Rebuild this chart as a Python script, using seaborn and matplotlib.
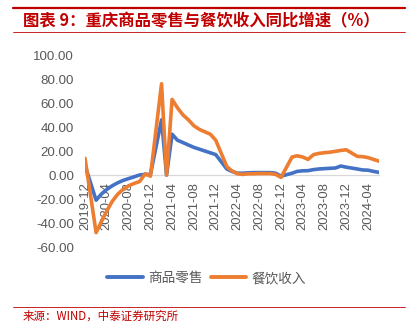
import matplotlib
matplotlib.use("Agg")
import matplotlib.pyplot as plt
import matplotlib.dates as mdates
import seaborn as sns
import pandas as pd
import numpy as np
from matplotlib.lines import Line2D

months = ["2019-12",
          "2020-02", "2020-03", "2020-04", "2020-05", "2020-06", "2020-07", "2020-08", "2020-09", "2020-10", "2020-11", "2020-12",
          "2021-02", "2021-03", "2021-04", "2021-05", "2021-06", "2021-07", "2021-08", "2021-09", "2021-10", "2021-11", "2021-12",
          "2022-02", "2022-03", "2022-04", "2022-05", "2022-06", "2022-07", "2022-08", "2022-09", "2022-10", "2022-11", "2022-12",
          "2023-02", "2023-03", "2023-04", "2023-05", "2023-06", "2023-07", "2023-08", "2023-09", "2023-10", "2023-11", "2023-12",
          "2024-02", "2024-03", "2024-04", "2024-05", "2024-06"]

retail = [8,
          -21, -16, -12, -9, -6.5, -4.5, -3, -1.5, 0, 0.5, 0.5,
          46, 0, 34, 29, 27, 25, 23, 21.5, 20, 18.5, 17,
          5, 3, 1.5, 1.5, 1.8, 2, 2, 2, 2, 1.5, -1,
          1.5, 3, 3.5, 3.6, 4.5, 5, 5.3, 5.6, 5.8, 7.5, 6.5,
          5, 4.2, 4, 3, 2.2]

catering = [14,
            -48, -39, -30, -22, -16, -12, -9, -7, -5.5, 1, -1,
            76, 0, 63, 56, 50, 46, 41, 38, 36, 34, 29,
            7, 3.5, 1, 0.5, 1, 1, 1.2, 1.2, 1.2, 0.5, -2,
            15, 16, 15, 13, 17, 18, 18.6, 19, 19.7, 20.5, 21,
            15.5, 15.3, 14.5, 13, 11.5]

series_names = ["商品零售", "餐饮收入"]
colors = ["#4472C4", "#ED7D31"]

tick_labels = ["2019-12", "2020-04", "2020-08", "2020-12", "2021-04", "2021-08", "2021-12",
               "2022-04", "2022-08", "2022-12", "2023-04", "2023-08", "2023-12", "2024-04"]
y_ticks = [-60, -40, -20, 0, 20, 40, 60, 80, 100]

title = "图表 9：重庆商品零售与餐饮收入同比增速（%）"
source = "来源：WIND，中泰证券研究所"

df = pd.DataFrame({
    "date": pd.to_datetime(months * 2),
    "value": retail + catering,
    "series": [series_names[0]] * len(months) + [series_names[1]] * len(months),
})

sns.set_theme(style="white")
plt.rcParams["font.family"] = ["Liberation Sans", "Noto Sans CJK SC", "DejaVu Sans"]

W, H = 414, 335
fig = plt.figure(figsize=(W / 100, H / 100), dpi=100)
ax = fig.add_axes([85 / W, 1 - 247 / H, (379 - 85) / W, (247 - 55) / H])

sns.lineplot(data=df, x="date", y="value", hue="series", palette=colors,
             hue_order=series_names, linewidth=2.6, ax=ax, legend=False,
             estimator=None, sort=True)

ax.set_xlim(pd.Timestamp("2019-12-01"), pd.Timestamp("2024-06-01"))
ax.set_ylim(-60, 100)
ax.set_xlabel("")
ax.set_ylabel("")

ax.set_xticks(pd.to_datetime(tick_labels))
ax.xaxis.set_major_formatter(mdates.DateFormatter("%Y-%m"))
ax.set_yticks(y_ticks)
ax.set_yticklabels([f"{v:.2f}" for v in y_ticks])

for s in ["top", "right", "left"]:
    ax.spines[s].set_visible(False)
ax.spines["bottom"].set_position(("data", 0))
ax.spines["bottom"].set_color("#d9d9d9")
ax.spines["bottom"].set_linewidth(0.9)
ax.spines["bottom"].set_zorder(0)

ax.tick_params(axis="x", length=0, pad=5, labelsize=9.4, labelcolor="#595959", rotation=90)
ax.tick_params(axis="y", length=0, pad=8, labelsize=9.6, labelcolor="#595959")
for lbl in ax.get_xticklabels():
    lbl.set_rotation(90)
    lbl.set_va("top")
    lbl.set_ha("center")
ax.grid(False)

handles = [Line2D([0], [0], color=c, lw=2.8) for c in colors]
fig.legend(handles, series_names, loc="center", bbox_to_anchor=(0.499, 1 - 278 / H),
           ncol=2, frameon=False, handlelength=2.6, handletextpad=0.4,
           columnspacing=0.6, labelcolor="#595959",
           prop={"family": ["Noto Sans CJK SC", "DejaVu Sans"], "size": 9.8})

red = "#C00000"
fig.add_artist(Line2D([13 / W, 405 / W], [1 - 8 / H, 1 - 8 / H], color=red, lw=1.6))
fig.add_artist(Line2D([13 / W, 405 / W], [1 - 32 / H, 1 - 32 / H], color=red, lw=0.6))
fig.add_artist(Line2D([13 / W, 405 / W], [1 - 307 / H, 1 - 307 / H], color=red, lw=0.6))

fig.text(23 / W, 1 - 21 / H, title, color=red, fontsize=11.8, fontweight="bold",
         family=["Noto Sans CJK SC", "DejaVu Sans"], va="center", ha="left")
fig.text(23 / W, 1 - 316 / H, source, color=red, fontsize=8.3,
         family=["Noto Sans CJK SC", "DejaVu Sans"], va="center", ha="left")

fig.savefig("out.png", dpi=100)
